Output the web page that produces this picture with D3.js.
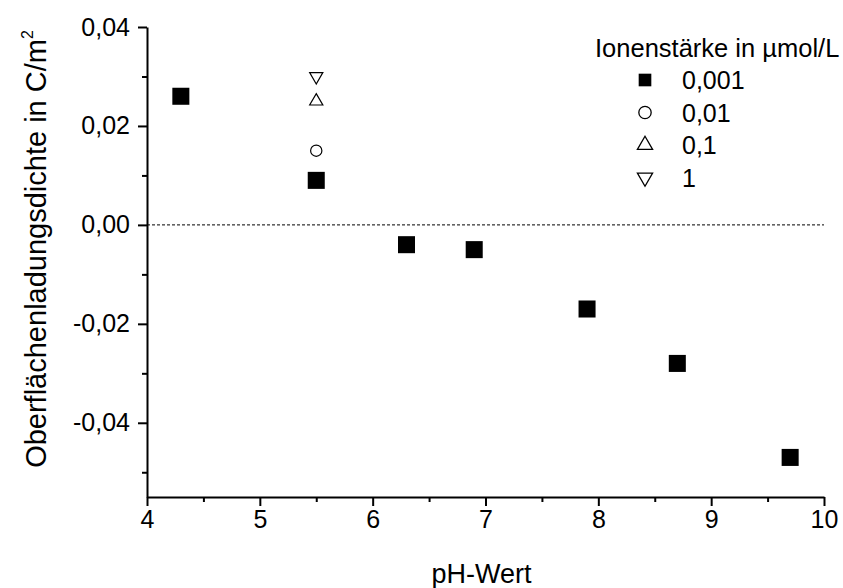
<!DOCTYPE html>
<html>
<head>
<meta charset="utf-8">
<script src="https://cdn.jsdelivr.net/npm/d3@7"></script>
<style>
  body { margin: 0; background: #fff; }
  svg text { font-family: "Liberation Sans", Arial, sans-serif; fill: #000; }
</style>
</head>
<body>
<svg id="chart" width="843" height="588"></svg>
<script>
// data
const phLow = [4.3, 5.5, 6.3, 6.9, 7.9, 8.7, 9.7];
const sigmaLow = [0.026, 0.009, -0.004, -0.005, -0.017, -0.028, -0.047];
const ph001 = [5.5];
const sigma001 = [0.015];
const ph01 = [5.5];
const sigma01 = [0.025];
const ph1 = [5.5];
const sigma1 = [0.030];
const seriesLabels = ["0,001", "0,01", "0,1", "1"];
const xTicks = [4, 5, 6, 7, 8, 9, 10];
const yTicks = [-0.04, -0.02, 0.00, 0.02, 0.04];

const svg = d3.select("#chart");
const margin = { top: 27, right: 19, bottom: 91, left: 147 };
const width = 843 - margin.left - margin.right;
const height = 588 - margin.top - margin.bottom;

const locale = d3.formatLocale({ decimal: ",", thousands: ".", grouping: [3], currency: ["", ""], minus: "-" });
const fmt2 = locale.format(".2f");

const x = d3.scaleLinear().domain([4, 10]).range([0, width]);
const y = d3.scaleLinear().domain([-0.055, 0.04]).range([height, 0]);

const g = svg.append("g").attr("transform", `translate(${margin.left},${margin.top})`);

// zero line
g.append("line")
    .attr("x1", 0).attr("x2", width)
    .attr("y1", y(0)).attr("y2", y(0))
    .attr("stroke", "#000").attr("stroke-width", 1)
    .attr("stroke-dasharray", "3,2");

// minor ticks
g.append("g")
    .attr("transform", `translate(0,${height})`)
    .call(d3.axisBottom(x).tickValues(d3.range(4.5, 10, 1)).tickSize(5).tickFormat(""))
    .call(a => a.select(".domain").remove())
    .selectAll("line").attr("stroke-width", 2);
g.append("g")
    .call(d3.axisLeft(y).tickValues([-0.05, -0.03, -0.01, 0.01, 0.03]).tickSize(5).tickFormat(""))
    .call(a => a.select(".domain").remove())
    .selectAll("line").attr("stroke-width", 2);

// major axes
const xAxis = g.append("g")
    .attr("transform", `translate(0,${height})`)
    .call(d3.axisBottom(x).tickValues(xTicks).tickSize(9).tickSizeOuter(0).tickPadding(4).tickFormat(d3.format("d")));
const yAxis = g.append("g")
    .call(d3.axisLeft(y).tickValues(yTicks).tickSize(9).tickSizeOuter(0).tickPadding(8).tickFormat(fmt2));
[xAxis, yAxis].forEach(a => {
    a.attr("font-size", null).attr("font-family", null);
    a.select(".domain").attr("stroke-width", 2);
    a.selectAll(".tick line").attr("stroke-width", 2);
    a.selectAll("text").style("font-size", "25px");
});

// axis titles
svg.append("text")
    .attr("x", margin.left + width / 2 - 4).attr("y", 583)
    .attr("text-anchor", "middle")
    .style("font-size", "27px")
    .text("pH-Wert");

const yt = svg.append("text")
    .attr("transform", `translate(46,249) rotate(-90)`)
    .attr("text-anchor", "middle")
    .style("font-size", "29px");
yt.append("tspan").text("Oberflächenladungsdichte in C/m");
yt.append("tspan").attr("dy", -13).style("font-size", "16px").text("2");

// marks
const sym = (type, size) => d3.symbol().type(type).size(size)();

g.selectAll(".sq").data(phLow.map((p, i) => [p, sigmaLow[i]]))
    .enter().append("path").attr("class", "sq")
    .attr("d", sym(d3.symbolSquare, 290))
    .attr("transform", d => `translate(${x(d[0])},${y(d[1])})`)
    .attr("fill", "#000");

g.selectAll(".ci").data(ph001.map((p, i) => [p, sigma001[i]]))
    .enter().append("path").attr("class", "ci")
    .attr("d", sym(d3.symbolCircle, 100))
    .attr("transform", d => `translate(${x(d[0])},${y(d[1])})`)
    .attr("fill", "none").attr("stroke", "#000").attr("stroke-width", 1.2);

g.selectAll(".tu").data(ph01.map((p, i) => [p, sigma01[i]]))
    .enter().append("path").attr("class", "tu")
    .attr("d", sym(d3.symbolTriangle, 75))
    .attr("transform", d => `translate(${x(d[0])},${y(d[1])})`)
    .attr("fill", "none").attr("stroke", "#000").attr("stroke-width", 1.2);

g.selectAll(".td").data(ph1.map((p, i) => [p, sigma1[i]]))
    .enter().append("path").attr("class", "td")
    .attr("d", sym(d3.symbolTriangle, 75))
    .attr("transform", d => `translate(${x(d[0])},${y(d[1])}) rotate(180)`)
    .attr("fill", "none").attr("stroke", "#000").attr("stroke-width", 1.2);

// legend
const legend = svg.append("g").attr("transform", "translate(595,0)");
legend.append("text").attr("x", 0).attr("y", 57)
    .style("font-size", "25.5px")
    .text("Ionenstärke in µmol/L");

const legendSyms = [
    { type: d3.symbolSquare, size: 160, fill: "#000", rot: 0 },
    { type: d3.symbolCircle, size: 120, fill: "none", rot: 0 },
    { type: d3.symbolTriangle, size: 100, fill: "none", rot: 0 },
    { type: d3.symbolTriangle, size: 100, fill: "none", rot: 180 }
];
seriesLabels.forEach((lab, i) => {
    const cy = 80 + i * 32.5;
    const s = legendSyms[i];
    legend.append("path")
        .attr("d", sym(s.type, s.size))
        .attr("transform", `translate(50,${cy}) rotate(${s.rot})`)
        .attr("fill", s.fill).attr("stroke", "#000").attr("stroke-width", s.fill === "none" ? 1.3 : 0);
    legend.append("text").attr("x", 87).attr("y", cy + 9)
        .style("font-size", "25px")
        .text(lab);
});
</script>
</body>
</html>
